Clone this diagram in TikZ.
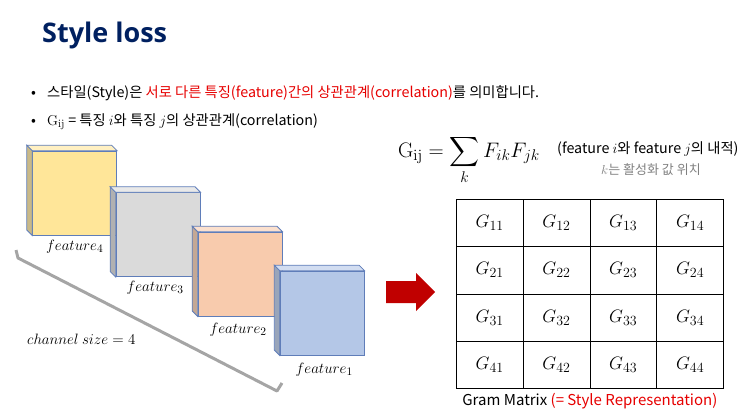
\RequirePackage{fix-cm}
\documentclass[tikz,border=0pt]{standalone}
\usepackage{amsmath}
\usepackage[no-math]{fontspec}
\setmainfont{Noto Sans CJK KR}
\newfontfamily\titlefont{Open Sans}
\DeclareMathSizes{14.3}{14.3}{11}{8}
\DeclareMathSizes{15}{15}{11.5}{9}
\DeclareMathSizes{18}{18}{14}{10}
\DeclareMathSizes{21}{21}{15.5}{11}
\usetikzlibrary{positioning}
\usetikzlibrary{matrix}
\definecolor{titleblue}{RGB}{0,32,96}
\definecolor{hlred}{RGB}{230,0,0}
\definecolor{arrowred}{RGB}{192,0,0}
\definecolor{edgeblue}{RGB}{95,125,185}
\definecolor{bracketgray}{RGB}{165,165,165}
\definecolor{yellowf}{RGB}{255,230,153}
\definecolor{grayf}{RGB}{218,218,218}
\definecolor{orangef}{RGB}{248,203,173}
\definecolor{bluef}{RGB}{180,199,231}
\tikzset{
	face/.style={
		draw=edgeblue, line width=0.8pt, minimum width=84pt, minimum height=84pt,
		inner sep=0pt, anchor=north west
	},
	feature label/.style={
		font=\fontsize{15}{17}\selectfont, inner sep=1pt
	},
	bullet text/.style={
		anchor=base west, inner sep=0pt, font=\fontsize{14.3}{16}\selectfont
	},
	gram cell/.style={
		draw, line width=0.6pt, minimum width=66.8pt, minimum height=47.3pt,
		font=\fontsize{18}{20}\selectfont, inner sep=0pt, outer sep=0pt
	}
}
\newcommand\cubeface[4]{% name, x, y, colour
	\node[face, fill=#4, name=#1] at (#2,#3) {};
	\fill[#4!75!black!85, draw=edgeblue, line width=0.8pt]
		(#1.north west) -- ++(-5.5,-5.5) -- ([shift={(-5.5,-5.5)}]#1.south west) -- (#1.south west) -- cycle;
	\fill[#4!60!white, draw=edgeblue, line width=0.8pt]
		(#1.north west) -- ++(-5.5,-5.5) -- ([shift={(-5.5,-5.5)}]#1.north east) -- (#1.north east) -- cycle;
}

\begin{document}
\begin{tikzpicture}[x=1pt, y=-1pt]
    \useasboundingbox (0,0) rectangle (755,412);

    % title and bullets
    \node[anchor=base west, inner sep=0pt, text=titleblue, font=\titlefont\bfseries\fontsize{27}{30}\selectfont] (title) at (42,43) {Style loss};
    \node[bullet text] (dot1) at (31,97) {•};
    \node[bullet text] (line1) at (47,97) {스타일(Style)은 \textcolor{hlred}{서로 다른 특징(feature)간의 상관관계(correlation)}를 의미합니다.};
    \node[bullet text] (dot2) at (31,125) {•};
    \node[bullet text] (line2) at (47,125) {$\mathrm{G}_{\mathrm{ij}}$ = 특징 $i$와 특징 $j$의 상관관계(correlation)};

    % formula
    \node[anchor=base west, inner sep=0pt, font=\fontsize{21}{23}\selectfont] (formula) at (398,157)
        {$\mathrm{G}_{\mathrm{ij}} = \displaystyle\sum_{k} F_{ik}F_{jk}$};
    \node[anchor=base west, inner sep=0pt, font=\fontsize{14.3}{16}\selectfont] (inner) at (557,153) {(feature $i$와 feature $j$의 내적)};
    \node[anchor=base west, inner sep=0pt, text=gray, font=\fontsize{13}{15}\selectfont] (kpos) at (601,174) {$k$는 활성화 값 위치};

    % feature maps
    \cubeface{feat4}{32.3}{150.7}{yellowf}
    \cubeface{feat3}{115.7}{192.3}{grayf}
    \cubeface{feat2}{197.7}{231.7}{orangef}
    \cubeface{feat1}{279.8}{270.7}{bluef}
    \node[feature label, below=3pt of feat4.south] (lab4) {$feature_4$};
    \node[feature label, below=3pt of feat3.south, xshift=-3pt] (lab3) {$feature_3$};
    \node[feature label, below=5pt of feat2.south, xshift=-2pt] (lab2) {$feature_2$};
    \node[feature label, below=6pt of feat1.south, xshift=2pt] (lab1) {$feature_1$};
    \node[anchor=base west, inner sep=0pt, font=\fontsize{15}{17}\selectfont] (channels) at (27,344) {$channel\ size = 4$};

    % bracket
    \coordinate (br1) at (16,250);
    \coordinate (br2) at (18,258);
    \coordinate (br3) at (277,391);
    \coordinate (br4) at (282,383);
    \draw[bracketgray, line width=3pt, line join=round] (br1) -- (br2) -- (br3) -- (br4);

    % arrow
    \fill[arrowred] (386,281) coordinate (arrow) -- (416,281) -- (416,273) -- (435,292) -- (416,311) -- (416,303) -- (386,303) -- cycle;

    % gram matrix
    \matrix (gram) [matrix of math nodes, nodes={gram cell}, anchor=north west,
        inner sep=0pt, outer sep=0pt, column sep=-0.6pt, row sep=-0.6pt] at (456,199) {
        G_{11} & G_{12} & G_{13} & G_{14} \\
        G_{21} & G_{22} & G_{23} & G_{24} \\
        G_{31} & G_{32} & G_{33} & G_{34} \\
        G_{41} & G_{42} & G_{43} & G_{44} \\
    };
    \node[below=4pt of gram.south, inner sep=0pt, font=\fontsize{15}{17}\selectfont] (caption)
        {Gram Matrix \textcolor{hlred}{(= Style Representation)}};
\end{tikzpicture}
\end{document}
